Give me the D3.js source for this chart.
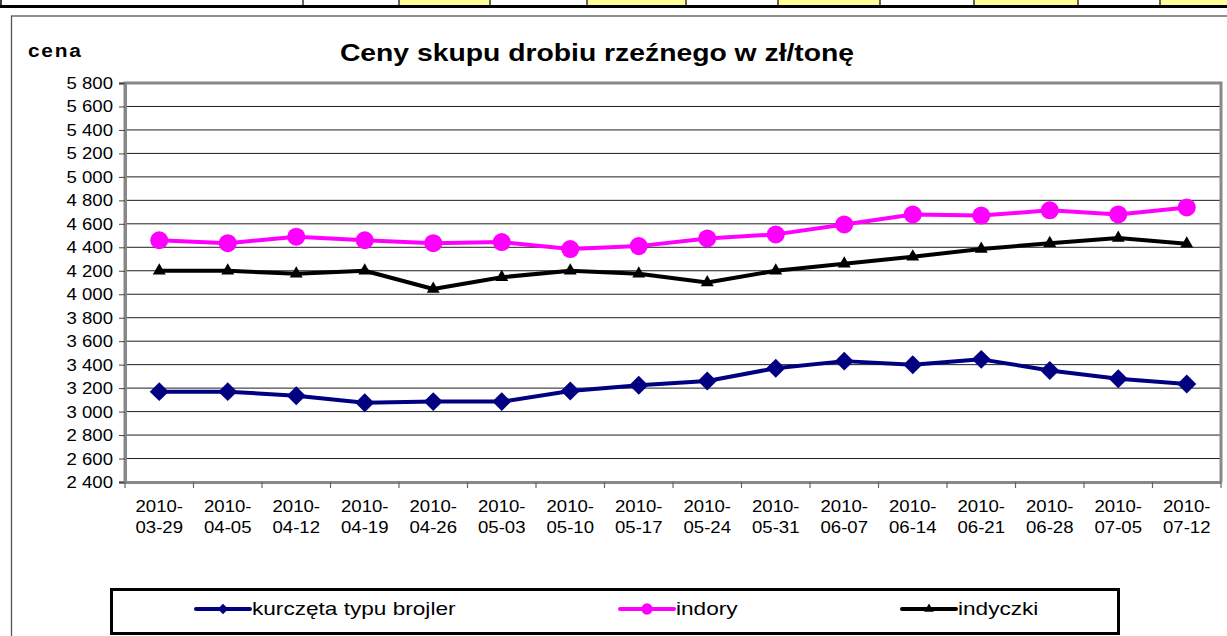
<!DOCTYPE html>
<html>
<head>
<meta charset="utf-8">
<script src="https://cdn.jsdelivr.net/npm/d3@7"></script>
<style>
  body { margin: 0; background: #fff; }
  svg { display: block; font-family: "Liberation Sans", Arial, sans-serif; }
</style>
</head>
<body>
<div class="canvas"></div>
<script>
// weekly dates
const dates = ["2010-03-29", "2010-04-05", "2010-04-12", "2010-04-19", "2010-04-26", "2010-05-03",
  "2010-05-10", "2010-05-17", "2010-05-24", "2010-05-31", "2010-06-07", "2010-06-14",
  "2010-06-21", "2010-06-28", "2010-07-05", "2010-07-12"];

// prices, zl per tonne
const kurczeta = [3170, 3170, 3135, 3075, 3085, 3085, 3175, 3225, 3260, 3370, 3430, 3400, 3445, 3350, 3280, 3235];
const indory = [4460, 4435, 4490, 4460, 4435, 4445, 4385, 4410, 4475, 4510, 4595, 4680, 4670, 4715, 4680, 4740];
const indyczki = [4200, 4200, 4175, 4200, 4045, 4145, 4200, 4175, 4100, 4200, 4260, 4320, 4385, 4435, 4480, 4430];

const seriesNames = ["kurczęta typu brojler", "indory", "indyczki"];
const yTicks = d3.range(2400, 5801, 200);

// cells of the table row cut off at the top of the page
const stripLines = [303, 399, 490, 587, 686, 778, 880, 974, 1078, 1160];
const yellowCells = [[399, 490], [587, 686], [778, 880], [974, 1078], [1160, 1227]];

const W = 1227, H = 636;
const SX = 1.16; // text in the picture is a bit stretched sideways

const svg = d3.select(".canvas").append("svg")
    .attr("width", W)
    .attr("height", H);

// strip of the table above the chart
svg.selectAll("rect.cell").data(yellowCells).enter().append("rect")
    .attr("x", d => d[0]).attr("y", 0)
    .attr("width", d => d[1] - d[0]).attr("height", 6)
    .attr("fill", "#ffff99");
svg.selectAll("line.cellline").data(stripLines).enter().append("line")
    .attr("x1", d => d).attr("x2", d => d)
    .attr("y1", 0).attr("y2", 6)
    .attr("stroke", "#000").attr("stroke-width", 1.2);
svg.append("line").attr("x1", 1).attr("x2", 1).attr("y1", 0).attr("y2", 6)
    .attr("stroke", "#000").attr("stroke-width", 1.5);
svg.append("rect").attr("x", 0).attr("y", 5).attr("width", W).attr("height", 3).attr("fill", "#000");

// chart frame
svg.append("rect")
    .attr("x", 11.5).attr("y", 16)
    .attr("width", W + 20).attr("height", H)
    .attr("fill", "#fff")
    .attr("stroke", "#555")
    .attr("stroke-width", 1.3);

const margin = {top: 83, right: 6, bottom: 154, left: 125};
const plotW = W - margin.left - margin.right;
const plotH = H - margin.top - margin.bottom;

const x = d3.scaleBand().domain(dates).range([0, plotW]);
const y = d3.scaleLinear().domain([2400, 5800]).range([plotH, 0]);
const cx = d => x(d) + x.bandwidth() / 2;

const fmt = d3.formatLocale({decimal: ",", thousands: " ", grouping: [3], currency: ["", ""]}).format(",");

function stretchText(sel, tx, ty, str, opts) {
  const o = opts || {};
  return sel.append("text")
    .attr("transform", `translate(${tx},${ty}) scale(${o.sx || SX},1)`)
    .attr("text-anchor", o.anchor || "start")
    .attr("font-size", o.size || 16)
    .attr("font-weight", o.weight || "normal")
    .attr("letter-spacing", o.ls || 0)
    .attr("fill", "#000")
    .text(str);
}

const graph = svg.append("g")
    .attr("transform", `translate(${margin.left},${margin.top})`);

// gridlines
graph.selectAll("line.grid").data(yTicks).enter().append("line")
    .attr("x1", 0).attr("x2", plotW)
    .attr("y1", d => y(d)).attr("y2", d => y(d))
    .attr("stroke", "#1e1e1e").attr("stroke-width", 1);

// plot border, grey
graph.append("path")
    .attr("d", `M0,${plotH}V0H${plotW}V${plotH}`)
    .attr("fill", "none").attr("stroke", "#888").attr("stroke-width", 3);

// axes
const yAxisG = graph.append("g").call(d3.axisLeft(y).tickValues(yTicks).tickSize(6).tickFormat(""));
const xAxisG = graph.append("g").attr("transform", `translate(0,${plotH})`)
    .call(d3.axisBottom(x).tickSize(0).tickFormat(""));
yAxisG.select(".domain").attr("stroke", "#888").attr("stroke-width", 3);
yAxisG.selectAll(".tick line").attr("stroke", "#444");
xAxisG.select(".domain").attr("stroke", "#888").attr("stroke-width", 3);

// x ticks at category boundaries
const bounds = dates.map(d => x(d)).concat([plotW]);
xAxisG.selectAll("line.xt").data(bounds).enter().append("line")
    .attr("x1", d => d).attr("x2", d => d)
    .attr("y1", 0).attr("y2", 6)
    .attr("stroke", "#666").attr("stroke-width", 1.2);

// y tick labels
yTicks.forEach(v => {
  stretchText(graph, -12, y(v) + 6, fmt(v), {anchor: "end"});
});

// x tick labels, two lines
dates.forEach(d => {
  stretchText(graph, cx(d), plotH + 30, d.slice(0, 5), {anchor: "middle"});
  stretchText(graph, cx(d), plotH + 51, d.slice(5), {anchor: "middle"});
});

// title and unit
stretchText(svg, 597, 61, "Ceny skupu drobiu rzeźnego w zł/tonę", {anchor: "middle", size: 24, weight: "bold", sx: 1.18});
stretchText(svg, 28, 57, "cena", {size: 18, weight: "bold", ls: 1.5});

// series
const series = [
  {name: seriesNames[0], values: kurczeta, color: "#000080", marker: "diamond"},
  {name: seriesNames[1], values: indory, color: "#ff00ff", marker: "circle"},
  {name: seriesNames[2], values: indyczki, color: "#000000", marker: "triangle"}
];

const symbolFor = {
  diamond: d3.symbol().type(d3.symbolSquare).size(180),
  circle: d3.symbol().type(d3.symbolCircle).size(255),
  triangle: d3.symbol().type(d3.symbolTriangle).size(72)
};

const line = d3.line().x(d => cx(d.date)).y(d => y(d.value));

series.forEach(s => {
  const pts = dates.map((d, i) => ({date: d, value: s.values[i]}));
  graph.append("path")
      .datum(pts)
      .attr("d", line)
      .attr("fill", "none")
      .attr("stroke", s.color)
      .attr("stroke-width", 4)
      .attr("stroke-linejoin", "round");
  graph.selectAll(null).data(pts).enter().append("path")
      .attr("d", symbolFor[s.marker])
      .attr("transform", d => `translate(${cx(d.date)},${y(d.value)})` + (s.marker === "diamond" ? " rotate(45)" : ""))
      .attr("fill", s.color);
});

// legend
const legend = svg.append("g");
legend.append("rect")
    .attr("x", 111.5).attr("y", 589.5)
    .attr("width", 1007).attr("height", 44)
    .attr("fill", "#fff").attr("stroke", "#000").attr("stroke-width", 3);

const legendX = [196, 620, 902];
const legendSym = {
  diamond: d3.symbol().type(d3.symbolSquare).size(55),
  circle: d3.symbol().type(d3.symbolCircle).size(100),
  triangle: d3.symbol().type(d3.symbolTriangle).size(40)
};
series.forEach((s, i) => {
  const lx = legendX[i];
  legend.append("line")
      .attr("x1", lx).attr("x2", lx + 54)
      .attr("y1", 609).attr("y2", 609)
      .attr("stroke", s.color).attr("stroke-width", 4).attr("stroke-linecap", "round");
  legend.append("path")
      .attr("d", legendSym[s.marker])
      .attr("transform", `translate(${lx + 27},609)` + (s.marker === "diamond" ? " rotate(45)" : ""))
      .attr("fill", s.color);
  stretchText(legend, lx + 56, 615, s.name, {size: 19, sx: 1.19});
});
</script>
</body>
</html>
